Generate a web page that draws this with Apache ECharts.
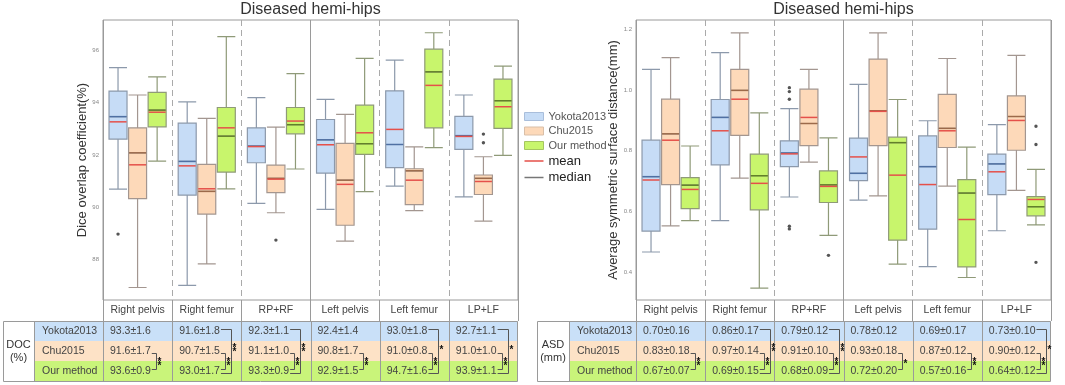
<!DOCTYPE html>
<html><head><meta charset="utf-8">
<script src="https://cdn.jsdelivr.net/npm/echarts@6/dist/echarts.min.js"></script>
<style>html,body{margin:0;padding:0;background:#fff}#c{width:1065px;height:385px}</style>
</head><body><div id="c"></div>
<script>
// ---------------- DATA ----------------
const CATEGORIES = ['Right pelvis', 'Right femur', 'RP+RF', 'Left pelvis', 'Left femur', 'LP+LF'];
const HALVES = ['Right', 'Left'];
const METHODS = ['Yokota2013', 'Chu2015', 'Our method'];
const TITLE = 'Diseased hemi-hips';
const DOC_AXIS_NAME = 'Dice overlap coefficient(%)';
const ASD_AXIS_NAME = 'Average symmetric surface distance(mm)';
const DOC_TICKS = [88, 90, 92, 94, 96];
const ASD_TICKS = [0.4, 0.6, 0.8, 1.0, 1.2];

// box: [min, Q1, median, Q3, max]
const DOC_BOX_YOKOTA = [[90.69, 92.61, 93.47, 94.45, 95.35], [86.99, 90.46, 91.75, 93.22, 94.04], [90.14, 91.70, 92.34, 93.04, 94.20], [89.91, 91.30, 92.58, 93.36, 94.13], [90.80, 91.51, 92.40, 94.46, 95.64], [90.39, 92.21, 92.74, 93.48, 94.30]];
const DOC_BOX_CHU = [[86.91, 90.32, 92.08, 93.04, 94.30], [87.82, 89.73, 90.60, 91.64, 93.40], [89.78, 90.55, 91.10, 91.61, 93.07], [88.69, 89.30, 91.03, 92.44, 93.56], [89.86, 90.09, 91.39, 91.47, 92.31], [89.46, 90.48, 91.10, 91.23, 91.93]];
const DOC_BOX_OUR = [[91.76, 93.08, 93.72, 94.40, 95.00], [90.70, 91.34, 92.72, 93.82, 96.54], [91.46, 92.81, 93.16, 93.82, 95.12], [90.59, 92.02, 92.43, 93.91, 95.71], [92.28, 93.04, 95.19, 96.06, 96.69], [91.98, 93.02, 94.08, 94.91, 95.41]];
const DOC_MEAN_YOKOTA = [93.27, 91.58, 92.32, 92.39, 92.98, 92.71];
const DOC_MEAN_CHU = [91.62, 90.70, 91.07, 90.87, 91.03, 90.98];
const DOC_MEAN_OUR = [93.64, 93.04, 93.30, 92.85, 94.67, 93.85];
// outliers: [categoryIndex, methodIndex, value]
const DOC_OUTLIERS = [[0, 0, 88.96], [2, 1, 88.73], [5, 1, 92.80], [5, 1, 92.47]];

const ASD_BOX_YOKOTA = [[0.467, 0.536, 0.715, 0.835, 1.068], [0.570, 0.754, 0.910, 0.969, 1.123], [0.648, 0.748, 0.793, 0.833, 0.939], [0.638, 0.702, 0.726, 0.842, 1.019], [0.419, 0.542, 0.748, 0.849, 0.899], [0.537, 0.656, 0.757, 0.789, 0.886]];
const ASD_BOX_CHU = [[0.553, 0.689, 0.856, 0.970, 1.107], [0.710, 0.851, 0.999, 1.068, 1.188], [0.763, 0.817, 0.890, 1.003, 1.068], [0.652, 0.817, 0.932, 1.102, 1.188], [0.684, 0.811, 0.874, 0.986, 1.104], [0.670, 0.802, 0.913, 0.981, 1.114]];
const ASD_BOX_OUR = [[0.570, 0.610, 0.687, 0.712, 0.816], [0.348, 0.606, 0.718, 0.789, 0.925], [0.522, 0.630, 0.688, 0.734, 0.843], [0.427, 0.506, 0.827, 0.845, 0.969], [0.383, 0.418, 0.661, 0.705, 0.812], [0.556, 0.586, 0.616, 0.649, 0.739]];
const ASD_MEAN_YOKOTA = [0.704, 0.866, 0.790, 0.780, 0.689, 0.731];
const ASD_MEAN_CHU = [0.835, 0.970, 0.910, 0.930, 0.866, 0.900];
const ASD_MEAN_OUR = [0.673, 0.693, 0.683, 0.720, 0.574, 0.640];
const ASD_OUTLIERS = [[2, 0, 1.008], [2, 0, 0.995], [2, 0, 0.970], [2, 0, 0.552], [2, 0, 0.543], [2, 2, 0.456], [5, 2, 0.881], [5, 2, 0.821], [5, 2, 0.433]];

// table
const DOC_LABEL = 'DOC\n(%)';
const ASD_LABEL = 'ASD\n(mm)';
const DOC_TABLE_YOKOTA = ['93.3±1.6', '91.6±1.8', '92.3±1.1', '92.4±1.4', '93.0±1.8', '92.7±1.1'];
const DOC_TABLE_CHU = ['91.6±1.7', '90.7±1.5', '91.1±1.0', '90.8±1.7', '91.0±0.8', '91.0±1.0'];
const DOC_TABLE_OUR = ['93.6±0.9', '93.0±1.7', '93.3±0.9', '92.9±1.5', '94.7±1.6', '93.9±1.1'];
const ASD_TABLE_YOKOTA = ['0.70±0.16', '0.86±0.17', '0.79±0.12', '0.78±0.12', '0.69±0.17', '0.73±0.10'];
const ASD_TABLE_CHU = ['0.83±0.18', '0.97±0.14', '0.91±0.10', '0.93±0.18', '0.87±0.12', '0.90±0.12'];
const ASD_TABLE_OUR = ['0.67±0.07', '0.69±0.15', '0.68±0.09', '0.72±0.20', '0.57±0.16', '0.64±0.12'];
// significance: Chu2015 vs Our method (inner), Yokota2013 vs Our method (outer)
const DOC_SIG_INNER = ['**', '**', '**', '**', '**', '**'];
const DOC_SIG_OUTER = ['', '**', '**', '', '*', '*'];
const ASD_SIG_INNER = ['**', '**', '**', '*', '**', '**'];
const ASD_SIG_OUTER = ['', '**', '**', '', '', '*'];

// ---------------- STYLE / LAYOUT ----------------
const FONT = '"Liberation Sans", Arial, sans-serif';
const FILLS = ['#c6dcf6', '#fdd9b9', '#c8f56c'];
const BORDERS = ['#8c99ab', '#a39690', '#8f9a78'];
const MEDIAN_COLORS = ['#4f70a3', '#9c6a4a', '#62802a'];
const ROW_FILLS = ['#c9e0f8', '#fde2c6', '#c9f47a'];
const MEAN_COLOR = '#e5504a';
const GRID_TOP = 20, GRID_H = 280, GRID_W = 415;
const GRID_LEFTS = [103, 636];
const HEADER_H = 21, ROW_H = 20;
const NAME_W = [69, 67], LAB_W = [31, 32];
const BOX_W = 18;
const TABLE_FS = 10.5;

const chart = echarts.init(document.getElementById('c'), null, {renderer: 'canvas'});

function boxOffset(api, m) {
  const bw = api.size([1, 0])[0];
  const A = bw * 0.8 - 2;
  return (m - 1) * A * (0.1 + 0.8 / 3);
}
function lineRenderer(colors, lw) {
  return function (params, api) {
    const c = api.value(0), m = api.value(1), v = api.value(2);
    const p = api.coord([c, v]);
    const x = p[0] + boxOffset(api, m);
    return {type: 'line', z2: 10, shape: {x1: x - BOX_W / 2 + 0.5, y1: p[1], x2: x + BOX_W / 2 - 0.5, y2: p[1]},
      style: {stroke: colors[m], lineWidth: lw, fill: null}};
  };
}
function outlierRenderer(params, api) {
  const c = api.value(0), m = api.value(1), v = api.value(2);
  const p = api.coord([c, v]);
  return {type: 'circle', shape: {cx: p[0] + boxOffset(api, m), cy: p[1], r: 1.7}, style: {fill: '#555'}};
}

const metrics = [
  {boxes: [DOC_BOX_YOKOTA, DOC_BOX_CHU, DOC_BOX_OUR], means: [DOC_MEAN_YOKOTA, DOC_MEAN_CHU, DOC_MEAN_OUR], outliers: DOC_OUTLIERS,
   ticks: DOC_TICKS, min: 86.43, max: 97.18, name: DOC_AXIS_NAME, nameGap: 13, fmt: v => String(v),
   label: DOC_LABEL, table: [DOC_TABLE_YOKOTA, DOC_TABLE_CHU, DOC_TABLE_OUR], inner: DOC_SIG_INNER, outer: DOC_SIG_OUTER},
  {boxes: [ASD_BOX_YOKOTA, ASD_BOX_CHU, ASD_BOX_OUR], means: [ASD_MEAN_YOKOTA, ASD_MEAN_CHU, ASD_MEAN_OUR], outliers: ASD_OUTLIERS,
   ticks: ASD_TICKS, min: 0.309, max: 1.2307, name: ASD_AXIS_NAME, nameGap: 14, fmt: v => v.toFixed(1),
   label: ASD_LABEL, table: [ASD_TABLE_YOKOTA, ASD_TABLE_CHU, ASD_TABLE_OUR], inner: ASD_SIG_INNER, outer: ASD_SIG_OUTER}
];

const grid = [], xAxis = [], yAxis = [], series = [], title = [], graphic = [];

const mctx = document.createElement('canvas').getContext('2d');
mctx.font = TABLE_FS + 'px ' + FONT;
const measure = t => mctx.measureText(t).width;

metrics.forEach((mt, g) => {
  const gl = GRID_LEFTS[g];
  grid.push({left: gl, top: GRID_TOP, width: GRID_W, height: GRID_H, show: true, borderColor: '#9a9a9a', borderWidth: 1, backgroundColor: 'transparent'});
  title.push({text: TITLE, left: gl + GRID_W / 2, textAlign: 'center', top: 2, padding: 0,
    textStyle: {fontSize: 16, fontWeight: 'normal', color: '#333', fontFamily: FONT}});
  xAxis.push({gridIndex: g, type: 'category', data: CATEGORIES, position: 'bottom',
    axisLine: {show: false},
    axisTick: {show: true, interval: 0, length: HEADER_H, lineStyle: {color: '#9a9a9a'}},
    axisLabel: {interval: 0, margin: 5, fontSize: TABLE_FS, color: '#444', fontFamily: FONT},
    splitLine: {show: true, interval: 0, lineStyle: {color: '#aaa', type: [6, 4], width: 1}}});
  xAxis.push({gridIndex: g, type: 'category', data: HALVES, position: 'top',
    axisLine: {show: false}, axisTick: {show: false}, axisLabel: {show: false},
    splitLine: {show: true, interval: 0, lineStyle: {color: '#9a9a9a', type: 'solid', width: 1}}});
  yAxis.push({gridIndex: g, type: 'value', min: mt.min, max: mt.max,
    name: mt.name, nameLocation: 'middle', nameGap: mt.nameGap, nameRotate: 90,
    nameTextStyle: {fontSize: 13, color: '#333', fontFamily: FONT},
    axisLine: {show: false}, axisTick: {show: false}, splitLine: {show: false},
    axisLabel: {customValues: mt.ticks, fontSize: 6, color: '#888', margin: 4, formatter: mt.fmt, fontFamily: FONT}});

  METHODS.forEach((name, m) => {
    series.push({type: 'boxplot', name: name, xAxisIndex: 2 * g, yAxisIndex: g, z: 2,
      boxWidth: [BOX_W, BOX_W], data: mt.boxes[m],
      itemStyle: {color: FILLS[m], borderColor: BORDERS[m], borderWidth: 1.2}, silent: true});
  });
  const medData = [], meanData = [];
  METHODS.forEach((name, m) => {
    mt.boxes[m].forEach((b, c) => medData.push([c, m, b[2]]));
    mt.means[m].forEach((v, c) => meanData.push([c, m, v]));
  });
  series.push({type: 'custom', name: 'median', xAxisIndex: 2 * g, yAxisIndex: g, coordinateSystem: 'cartesian2d', z: 8,
    encode: {x: 0, y: 2}, data: medData, renderItem: lineRenderer(MEDIAN_COLORS, 1.5), itemStyle: {color: '#777'}, silent: true});
  series.push({type: 'custom', name: 'mean', xAxisIndex: 2 * g, yAxisIndex: g, coordinateSystem: 'cartesian2d', z: 9,
    encode: {x: 0, y: 2}, data: meanData, renderItem: lineRenderer([MEAN_COLOR, MEAN_COLOR, MEAN_COLOR], 1.5), itemStyle: {color: MEAN_COLOR}, silent: true});
  series.push({type: 'custom', name: 'outliers', xAxisIndex: 2 * g, yAxisIndex: g, coordinateSystem: 'cartesian2d', z: 9,
    encode: {x: 0, y: 2}, data: mt.outliers, renderItem: outlierRenderer, silent: true});

  // ---- table ----
  const gr = gl + GRID_W, colW = GRID_W / 6;
  const y0 = GRID_TOP + GRID_H + HEADER_H;
  const nameL = gl - NAME_W[g], labL = nameL - LAB_W[g];
  const cy = r => y0 + r * ROW_H + ROW_H / 2;
  METHODS.forEach((name, r) => {
    graphic.push({type: 'rect', silent: true, z: 1, shape: {x: nameL, y: y0 + r * ROW_H, width: gr - nameL, height: ROW_H}, style: {fill: ROW_FILLS[r]}});
    graphic.push({type: 'text', silent: true, z: 3, x: nameL + 8, y: cy(r), style: {text: name, fontSize: TABLE_FS, fontFamily: FONT, fill: '#444', align: 'left', verticalAlign: 'middle'}});
    mt.table[r].forEach((t, k) => {
      graphic.push({type: 'text', silent: true, z: 3, x: gl + k * colW + 7, y: cy(r), style: {text: t, fontSize: TABLE_FS, fontFamily: FONT, fill: '#444', align: 'left', verticalAlign: 'middle'}});
    });
  });
  graphic.push({type: 'rect', silent: true, z: 2, shape: {x: labL + 0.5, y: y0 + 0.5, width: gr - labL - 1, height: 3 * ROW_H}, style: {fill: null, stroke: '#9a9a9a', lineWidth: 1}});
  [nameL, gl].concat([1, 2, 3, 4, 5].map(k => gl + k * colW)).forEach(x => {
    const xx = Math.round(x) + 0.5;
    graphic.push({type: 'line', silent: true, z: 2, shape: {x1: xx, y1: y0, x2: xx, y2: y0 + 3 * ROW_H}, style: {stroke: '#9a9a9a', lineWidth: 1}});
  });
  graphic.push({type: 'text', silent: true, z: 3, x: labL + LAB_W[g] / 2, y: y0 + 1.5 * ROW_H, style: {text: mt.label, fontSize: TABLE_FS + 0.5, lineHeight: 13, fontFamily: FONT, fill: '#333', align: 'center', verticalAlign: 'middle'}});
  const te = (r, k) => gl + k * colW + 7 + measure(mt.table[r][k]);
  const starStyle = s => ({text: s.split('').join('\n'), fontSize: 10, fontWeight: 'bold', lineHeight: 4.5, fontFamily: FONT, fill: '#111', align: 'left', verticalAlign: 'middle'});
  for (let k = 0; k < 6; k++) {
    if (mt.inner[k]) {
      const xi = Math.round(Math.max(te(1, k), te(2, k)) + 5) + 0.5;
      graphic.push({type: 'polyline', silent: true, z: 3, shape: {points: [[te(1, k) + 1, cy(1) + 2.5], [xi, cy(1) + 2.5], [xi, cy(2) - 1.5], [te(2, k) + 1, cy(2) - 1.5]]}, style: {stroke: '#555', lineWidth: 1, fill: null}});
      graphic.push({type: 'text', silent: true, z: 3, x: xi + 1, y: (cy(1) + cy(2)) / 2 + 3, style: starStyle(mt.inner[k])});
    }
    if (mt.outer[k]) {
      const xo = Math.round(Math.max(te(0, k), te(1, k), te(2, k)) + 11) + 0.5;
      graphic.push({type: 'polyline', silent: true, z: 3, shape: {points: [[te(0, k) + 1, cy(0) - 1.5], [xo, cy(0) - 1.5], [xo, cy(2) + 2.5], [te(2, k) + 1, cy(2) + 2.5]]}, style: {stroke: '#555', lineWidth: 1, fill: null}});
      graphic.push({type: 'text', silent: true, z: 3, x: xo + 1, y: cy(1) - 1, style: starStyle(mt.outer[k])});
    }
  }
});

const LINE_ICON = 'path://M0,0H20V0.01H0Z M0,3.3H20V4.7H0Z M0,7.99H20V8H0Z';
const legendText = {fontSize: 11, color: '#555', fontFamily: FONT};
const legendText2 = {fontSize: 13, color: '#222', fontFamily: FONT};

chart.setOption({
  backgroundColor: '#fff',
  animation: false,
  textStyle: {fontFamily: FONT},
  title: title,
  grid: grid,
  xAxis: xAxis,
  yAxis: yAxis,
  legend: {
    orient: 'vertical', left: 519, top: 106, itemGap: 3.5, itemWidth: 19, itemHeight: 8, selectedMode: false,
    data: [
      {name: METHODS[0], icon: 'rect', itemStyle: {color: FILLS[0], borderColor: '#a9bedb', borderWidth: 1}, textStyle: legendText},
      {name: METHODS[1], icon: 'rect', itemStyle: {color: FILLS[1], borderColor: '#d9bfa8', borderWidth: 1}, textStyle: legendText},
      {name: METHODS[2], icon: 'rect', itemStyle: {color: FILLS[2], borderColor: '#a5c561', borderWidth: 1}, textStyle: legendText},
      {name: 'mean', icon: LINE_ICON, itemStyle: {color: MEAN_COLOR, borderWidth: 0}, textStyle: legendText2},
      {name: 'median', icon: LINE_ICON, itemStyle: {color: '#777', borderWidth: 0}, textStyle: legendText2}
    ]
  },
  series: series,
  graphic: graphic
});
</script></body></html>
